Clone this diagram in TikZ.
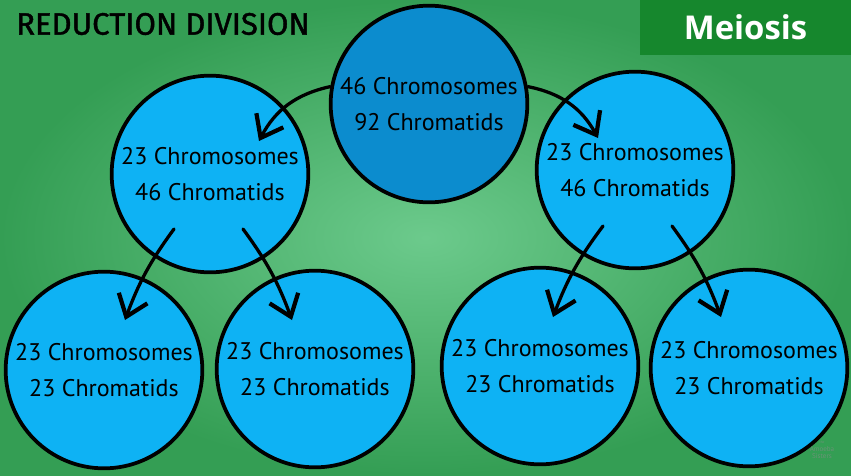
\documentclass[tikz,border=0pt]{standalone}
\usepackage{fontspec}
\setmainfont{PT Sans}
\newfontfamily\titlefont[FakeBold=1.3]{Fira Sans}
\newfontfamily\tagfont{Open Sans}
\usetikzlibrary{arrows.meta, calc}
\definecolor{bgLight}{RGB}{108,202,140}
\definecolor{bgDark}{RGB}{52,158,84}
\definecolor{cellDark}{RGB}{12,140,206}
\definecolor{cellLight}{RGB}{14,178,244}
\definecolor{tagGreen}{RGB}{22,135,45}

\begin{document}
\begin{tikzpicture}[
  x=0.03cm, y=-0.03cm,
  cell/.style={circle, draw=black, line width=3.2pt, fill=cellLight,
               minimum size=5.9cm, inner sep=0pt, align=center,
               font=\fontsize{20.5}{30.7}\selectfont},
  parent/.style={cell, fill=cellDark},
  arr/.style={-{Straight Barb[length=17pt, width=26pt, line width=3.6pt]},
              line width=2.8pt, line cap=round},
  tag/.style={fill=tagGreen, text=white, minimum width=6.33cm,
              minimum height=1.65cm, inner sep=0pt,
              font=\tagfont\bfseries\fontsize{28}{32}\selectfont},
  heading/.style={anchor=west, inner sep=0pt,
                  font=\titlefont\fontsize{26.5}{30}\selectfont},
  logo/.style={align=center, inner sep=0pt, text=black!45, opacity=0.6,
               font=\fontsize{6}{6.5}\selectfont}
]
\useasboundingbox (0,0) rectangle (851,475);
\shade[inner color=bgLight, outer color=bgDark] (0,0) rectangle (851,475);

\node[heading] (title) at (16,24) {REDUCTION DIVISION};
\node[tag] (tagbox) at (745.5,27.5) {Meiosis};

% cells
\node[parent] (top) at (429,104) {46 Chromosomes\\92 Chromatids};
\node[cell] (lm) at (210,174) {23 Chromosomes\\46 Chromatids};
\node[cell] (rm) at (635,170) {23 Chromosomes\\46 Chromatids};
\node[cell] (b1) at (104,370) {23 Chromosomes\\23 Chromatids};
\node[cell] (b2) at (315,369) {23 Chromosomes\\23 Chromatids};
\node[cell] (b3) at (540,366) {23 Chromosomes\\23 Chromatids};
\node[cell] (b4) at (749,368) {23 Chromosomes\\23 Chromatids};

\node[logo] (brand) at (822,450) {{\fontsize{3}{3}\selectfont the}\\Amoeba\\Sisters};

% arrow ends inside the cells
\coordinate (lmIn)  at ($(lm)+(49,-33)$);
\coordinate (rmIn)  at ($(rm)+(-37,-32)$);
\coordinate (lmOutA) at ($(lm)+(-36,55)$);
\coordinate (lmOutB) at ($(lm)+(33,55)$);
\coordinate (rmOutA) at ($(rm)+(-32,56)$);
\coordinate (rmOutB) at ($(rm)+(37,56)$);
\coordinate (b1In) at ($(b1)+(21,-50)$);
\coordinate (b2In) at ($(b2)+(-23,-49)$);
\coordinate (b3In) at ($(b3)+(13,-49)$);
\coordinate (b4In) at ($(b4)+(-28,-51)$);

\draw[arr] (top.170) to[bend right=25] (lmIn);
\draw[arr] (top.10)  to[bend left=25]  (rmIn);
\draw[arr] (lmOutA) to[bend right=8] (b1In);
\draw[arr] (lmOutB) to[bend left=8]  (b2In);
\draw[arr] (rmOutA) to[bend right=8] (b3In);
\draw[arr] (rmOutB) to[bend left=8]  (b4In);
\end{tikzpicture}
\end{document}
